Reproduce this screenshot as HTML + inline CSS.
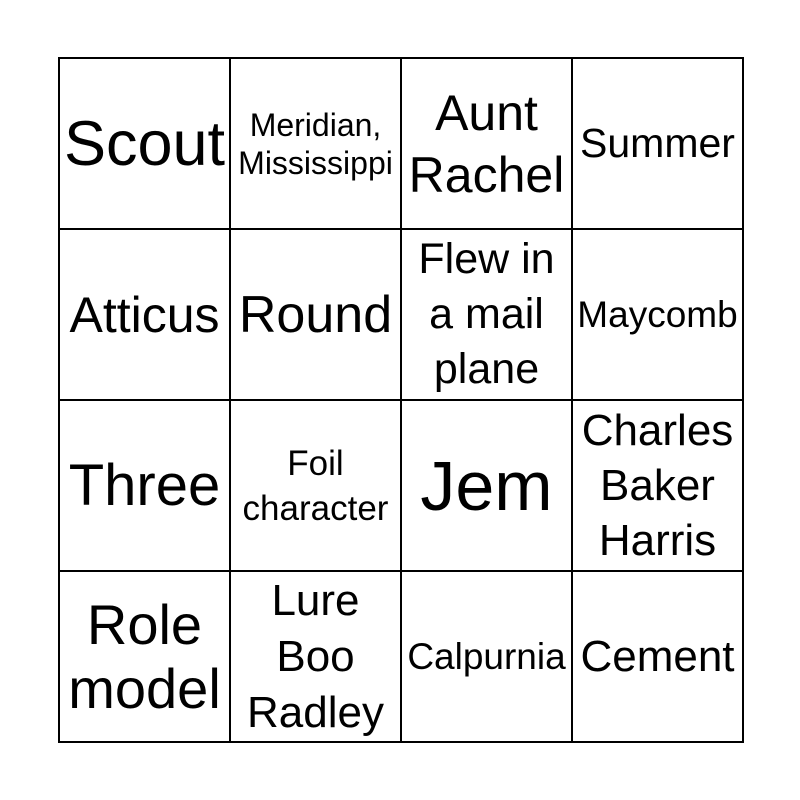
<!DOCTYPE html>
<html><head><style>
body{margin:0;width:800px;height:800px;background:#fff;position:relative;font-family:"Liberation Sans",Arial,sans-serif;}
table{position:absolute;left:58px;top:57px;border-collapse:collapse;table-layout:fixed;}
td{width:169px;height:169px;border:2px solid #000;text-align:center;vertical-align:middle;padding:0;color:#000;overflow:hidden;white-space:nowrap;}
</style></head><body>
<table>
<tr>
<td style="font-size:63px">Scout</td>
<td style="font-size:32px;line-height:38px">Meridian,<br>Mississippi</td>
<td style="font-size:50px;line-height:62px">Aunt<br>Rachel</td>
<td style="font-size:41px">Summer</td>
</tr>
<tr>
<td style="font-size:50px">Atticus</td>
<td style="font-size:52px">Round</td>
<td style="font-size:43px;line-height:55px">Flew in<br>a mail<br>plane</td>
<td style="font-size:37px">Maycomb</td>
</tr>
<tr>
<td style="font-size:58px">Three</td>
<td style="font-size:35px;line-height:45px">Foil<br>character</td>
<td style="font-size:70px">Jem</td>
<td style="font-size:44px;line-height:55px">Charles<br>Baker<br>Harris</td>
</tr>
<tr>
<td style="font-size:56px;line-height:64px">Role<br>model</td>
<td style="font-size:44px;line-height:56px">Lure<br>Boo<br>Radley</td>
<td style="font-size:37px">Calpurnia</td>
<td style="font-size:44px">Cement</td>
</tr>
</table>
</body></html>
